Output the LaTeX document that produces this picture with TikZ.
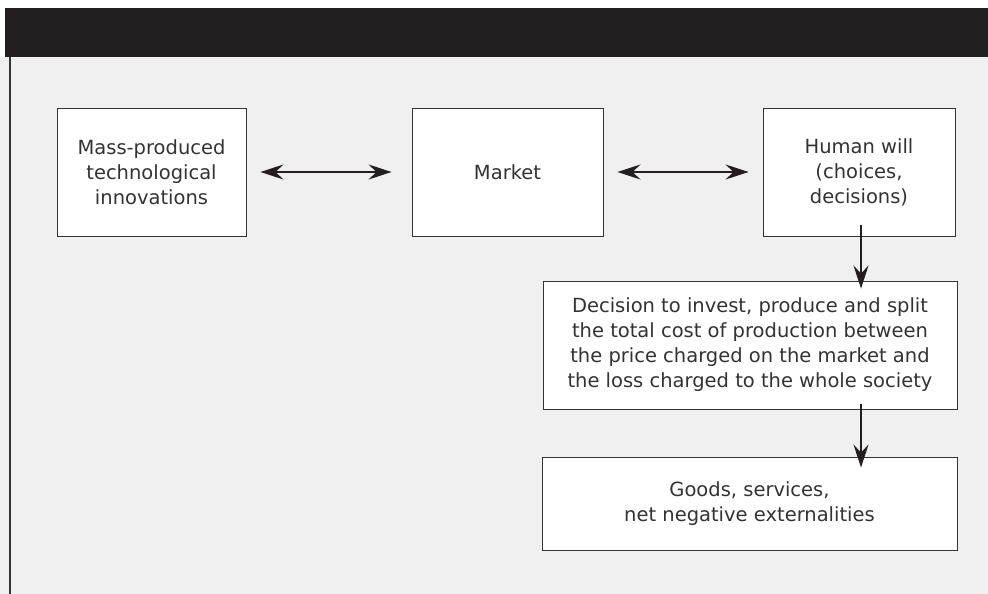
\documentclass[tikz,border=0pt]{standalone}
\usepackage{fontspec}
\setmainfont{DejaVu Sans}
\usepackage{xcolor}
\usetikzlibrary{arrows.meta,positioning}
\definecolor{panel}{HTML}{F0F0F0}
\definecolor{band}{HTML}{231F20}
\definecolor{ink}{HTML}{333333}

\begin{document}
\begin{tikzpicture}[x=1pt,y=-1pt,
  >={Stealth[length=23pt,width=15pt,inset=8pt]},
  box/.style={draw=ink,fill=white,line width=0.9pt,text=ink,align=center,inner sep=0pt,
    font=\fontsize{19.5}{25}\selectfont},
  link/.style={line width=2.2pt,draw=band,<->},
  flow/.style={line width=2.2pt,draw=band,->}]
  \useasboundingbox (0,0) rectangle (988,594);
  % frame
  \fill[panel] (0,57) rectangle (988,594);
  \fill[band] (5,8) rectangle (988,57);
  \draw[ink,line width=1.5pt] (10,57) -- (10,594);
  % boxes
  \node[box,minimum width=189pt,minimum height=128pt] (tech) at (151.5,172) {Mass-produced\\technological\\innovations};
  \node[box,minimum width=191pt,minimum height=128pt] (market) at (507.5,172) {Market};
  \node[box,minimum width=192pt,minimum height=128pt] (will) at (859,172) {Human will\\(choices,\\decisions)};
  \node[box,minimum width=414pt,minimum height=128pt] (decide) at (750,345) {Decision to invest, produce and split\\the total cost of production between\\the price charged on the market and\\the loss charged to the whole society};
  \node[box,minimum width=415pt,minimum height=93pt] (goods) at (749.5,503.5) {Goods, services,\\net negative externalities};
  % arrows
  \draw[link,shorten <=14pt,shorten >=20pt] (tech) -- (market);
  \draw[link,shorten <=14pt,shorten >=14pt] (market) -- (will);
  \draw[flow,shorten <=-11pt,shorten >=-8pt] ([xshift=2pt]will.south) -- ([xshift=2pt]will.south |- decide.north);
  \draw[flow,shorten <=-5pt,shorten >=-11pt] ([xshift=2pt]will.south |- decide.south) -- ([xshift=2pt]will.south |- goods.north);
\end{tikzpicture}
\end{document}
